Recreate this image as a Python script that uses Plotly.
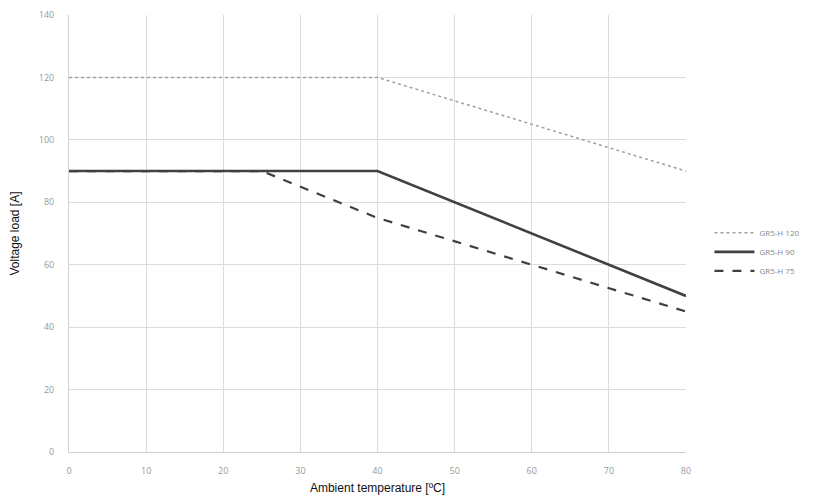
import plotly.graph_objects as go

temp_120 = [0, 40, 80]
load_120 = [120, 120, 90]
temp_90 = [0, 40, 80]
load_90 = [90, 90, 50]
temp_75 = [0, 25, 40, 80]
load_75 = [90, 90, 75, 45]
series_names = ["GR5-H 120", "GR5-H 90", "GR5-H 75"]
x_ticks = [0, 10, 20, 30, 40, 50, 60, 70, 80]
y_ticks = [0, 20, 40, 60, 80, 100, 120, 140]

fig = go.Figure()
fig.add_trace(go.Scatter(x=temp_120, y=load_120, mode="lines", name=series_names[0],
                         legendrank=1,
                         line=dict(color="#a0a0a0", width=1.5, dash="dot")))
fig.add_trace(go.Scatter(x=temp_75, y=load_75, mode="lines", name=series_names[2],
                         legendrank=3,
                         line=dict(color="#404040", width=2.2, dash="dash")))
fig.add_trace(go.Scatter(x=temp_90, y=load_90, mode="lines", name=series_names[1],
                         legendrank=2,
                         line=dict(color="#404040", width=2.6)))

fig.update_layout(
    width=805, height=492,
    margin=dict(l=61, r=127, t=7, b=48, autoexpand=False),
    paper_bgcolor="white", plot_bgcolor="white",
    font=dict(family="Open Sans, Liberation Sans, sans-serif", color="#222"),
    legend=dict(x=1.038, y=0.458, xanchor="left", yanchor="middle",
                font=dict(size=8, color="#888"), itemwidth=40,
                bgcolor="rgba(0,0,0,0)", tracegroupgap=4),
    xaxis=dict(range=[0, 80], tickvals=x_ticks, showgrid=True, gridcolor="#dcdcdc",
               gridwidth=1, zeroline=False, showline=True, linecolor="#d0d0d0",
               automargin=False, ticklabelstandoff=10,
               tickfont=dict(size=9, color="#999"), ticks="", ticklen=0,
               title=dict(text="Ambient temperature [ºC]", font=dict(size=12, color="#111",
                          family="Liberation Sans, Arial, sans-serif"), standoff=7)),
    yaxis=dict(range=[0, 140], tickvals=y_ticks, showgrid=True, gridcolor="#dcdcdc",
               gridwidth=1, zeroline=False, showline=True, linecolor="#d0d0d0",
               automargin=False, ticklabelstandoff=12,
               tickfont=dict(size=9, color="#999"), ticks="",
               title=dict(text="Voltage load [A]", font=dict(size=12, color="#111",
                          family="Liberation Sans, Arial, sans-serif"), standoff=22)),
)

fig.write_html("out.html")
